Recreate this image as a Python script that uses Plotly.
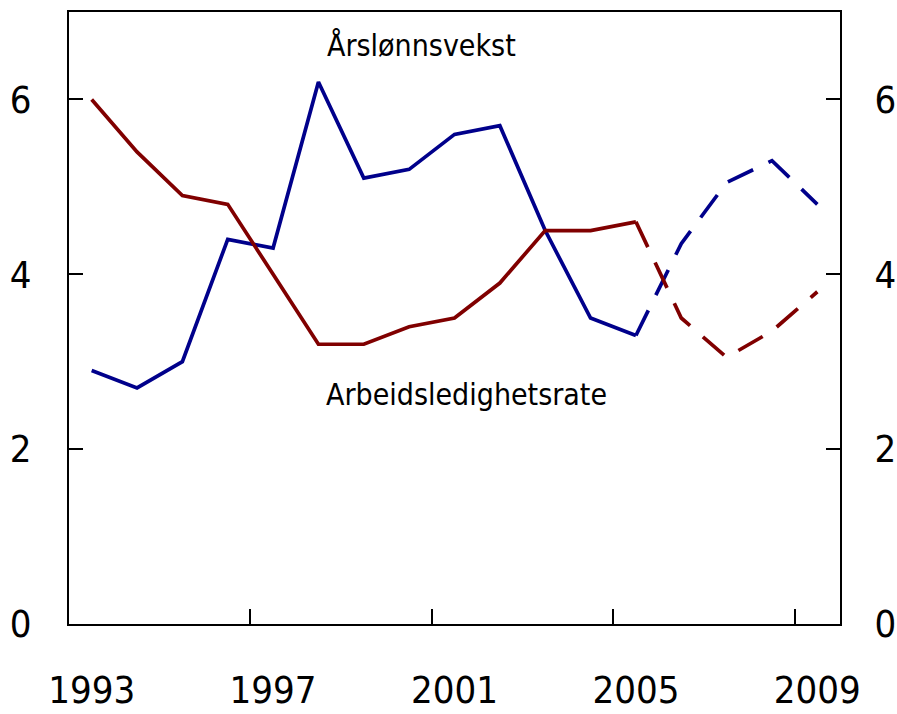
import plotly.graph_objects as go

years = list(range(1993, 2010))
hist_years = list(range(1993, 2006))
proj_years = list(range(2005, 2010))

wage_hist = [2.9, 2.7, 3.0, 4.4, 4.3, 6.2, 5.1, 5.2, 5.6, 5.7, 4.5, 3.5, 3.3]
wage_proj = [3.3, 4.35, 5.05, 5.3, 4.8]
unemp_hist = [6.0, 5.4, 4.9, 4.8, 4.0, 3.2, 3.2, 3.4, 3.5, 3.9, 4.5, 4.5, 4.6]
unemp_proj = [4.6, 3.5, 3.05, 3.35, 3.8]

x_tick_labels = ["1993", "1997", "2001", "2005", "2009"]
x_label_pos = [1993, 1997, 2001, 2005, 2009]
x_tick_pos = [1992.5, 1996.5, 2000.5, 2004.5, 2008.5]
y_ticks = [0, 2, 4, 6]

BLUE = "#00008B"
RED = "#800000"
FONT = "DejaVu Sans Condensed, Liberation Sans Narrow, sans-serif"

fig = go.Figure()
fig.add_trace(go.Scatter(x=hist_years, y=wage_hist, mode="lines",
                         line=dict(color=BLUE, width=3.7), showlegend=False))
fig.add_trace(go.Scatter(x=proj_years, y=wage_proj, mode="lines",
                         line=dict(color=BLUE, width=3.7, dash="28px,17px"), showlegend=False))
fig.add_trace(go.Scatter(x=hist_years, y=unemp_hist, mode="lines",
                         line=dict(color=RED, width=3.7), showlegend=False))
fig.add_trace(go.Scatter(x=proj_years, y=unemp_proj, mode="lines",
                         line=dict(color=RED, width=3.7, dash="28px,17px"), showlegend=False))
fig.add_trace(go.Scatter(x=[years[0]], y=[None], xaxis="x2", yaxis="y2",
                         mode="lines", showlegend=False, hoverinfo="skip",
                         line=dict(color="black")))

tick_font = dict(size=38, family=FONT, color="black")

fig.update_layout(
    width=897, height=714,
    margin=dict(l=69, r=57, t=12, b=90),
    paper_bgcolor="white", plot_bgcolor="white",
    font=dict(family=FONT, color="black"),
    xaxis=dict(range=[1992.5, 2009.5], tickvals=x_tick_pos, showticklabels=False,
               ticks="inside", ticklen=15, tickwidth=2, tickcolor="black",
               showline=True, linecolor="black", linewidth=2, mirror=True,
               showgrid=False, zeroline=False, automargin=False),
    xaxis2=dict(range=[1992.5, 2009.5], overlaying="x", side="bottom",
                tickvals=x_label_pos, ticktext=x_tick_labels, ticks="",
                tickfont=tick_font, ticklabelstandoff=40,
                showline=False, showgrid=False, zeroline=False, automargin=False),
    yaxis=dict(range=[0, 7], tickvals=y_ticks, ticks="inside", ticklen=14,
               tickwidth=2, tickcolor="black", tickfont=tick_font,
               ticklabelstandoff=28,
               showline=True, linecolor="black", linewidth=2, mirror=True,
               showgrid=False, zeroline=False, automargin=False),
    yaxis2=dict(range=[0, 7], tickvals=y_ticks, overlaying="y", side="right",
                ticks="inside", ticklen=14, tickwidth=2, tickcolor="black",
                tickfont=tick_font, ticklabelstandoff=25,
                showline=True, linecolor="black", linewidth=2,
                showgrid=False, zeroline=False, automargin=False),
    annotations=[
        dict(x=2000.28, y=6.62, xref="x", yref="y", text="Årslønnsvekst",
             showarrow=False, font=dict(size=30, family=FONT, color="black")),
        dict(x=2001.27, y=2.62, xref="x", yref="y", text="Arbeidsledighetsrate",
             showarrow=False, font=dict(size=30, family=FONT, color="black")),
    ],
)

fig.write_html("out.html", config={"displayModeBar": False},
               post_script="document.body.style.margin='0';document.body.style.overflow='hidden';")
